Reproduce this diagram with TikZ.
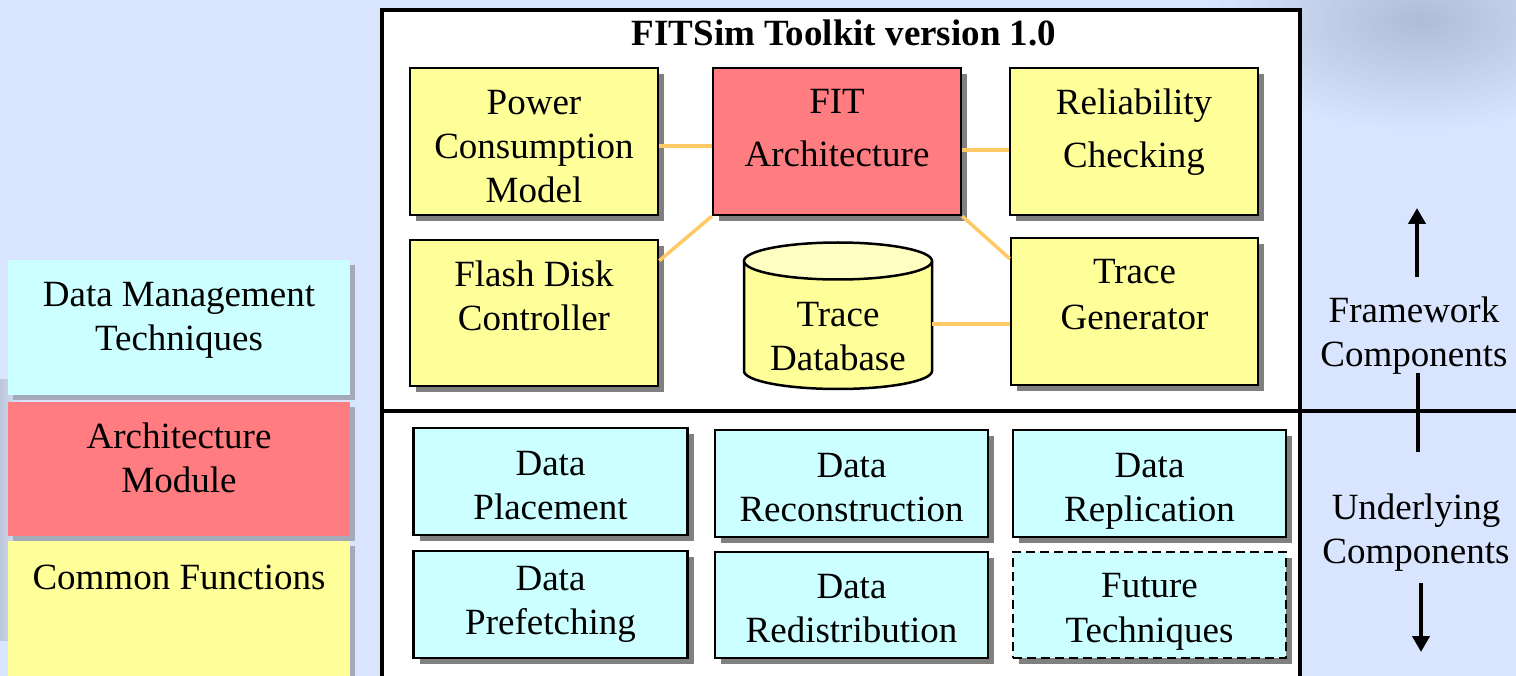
\documentclass[tikz,border=0pt]{standalone}
\usepackage{fontspec}
\setmainfont{Liberation Serif}
\usetikzlibrary{shadows,arrows.meta,calc}
\definecolor{bgblue}{HTML}{D9E5FE}
\definecolor{cyanf}{HTML}{CCFFFF}
\definecolor{redf}{HTML}{FF7C80}
\definecolor{yelf}{HTML}{FFFF99}
\definecolor{yeltop}{HTML}{FFFFC4}
\definecolor{orangel}{HTML}{FFC966}
\definecolor{shadowg}{HTML}{808080}
\definecolor{legshadow}{HTML}{A4AAB8}
\definecolor{smudge}{HTML}{A3AFCB}
\tikzset{
  txt/.style={font=\fontsize{37}{44}\selectfont, align=center, inner sep=0pt},
  boxbase/.style={draw=black, line width=2.5pt, inner sep=0pt,
    drop shadow={shadow xshift=6pt, shadow yshift=-6pt, fill=shadowg, opacity=1}},
  ybox/.style={boxbase, fill=yelf},
  rbox/.style={boxbase, fill=redf},
  cbox/.style={boxbase, fill=cyanf},
  legbox/.style={fill=#1, draw=none, inner sep=0pt,
    drop shadow={shadow xshift=5pt, shadow yshift=-5pt, fill=legshadow, opacity=1}},
  link/.style={draw=orangel, line width=3.5pt},
  thick line/.style={line width=4pt, draw=black},
  tarrow/.style={line width=4pt, -{Triangle[length=16pt, width=17pt]}},
}
\begin{document}
\begin{tikzpicture}[x=1pt, y=-1pt]
\useasboundingbox (0,0) rectangle (1516,676);
% background
\fill[bgblue] (0,0) rectangle (1516,676);
\shade[inner color=smudge, outer color=bgblue, opacity=0.75] (1420,20) ellipse [x radius=210, y radius=110];
\shade[left color=black!22!bgblue, right color=bgblue, opacity=0.6] (0,380) rectangle (22,640);

% legend
\node[legbox=cyanf, minimum width=342, minimum height=135] (lgc) at (179,327.5) {};
\node[txt] (lgct) at (179,320.5) {Data Management\\Techniques};
\node[legbox=redf, minimum width=342, minimum height=134] (lgr) at (179,468.5) {};
\node[txt] (lgrt) at (179,458) {Architecture\\Module};
\node[legbox=yelf, minimum width=342, minimum height=140] (lgy) at (179,611) {};
\node[txt] (lgyt) at (179,577) {Common Functions};

% main frame
\fill[white] (382,10) rectangle (1300,690);
\draw[thick line] (382,690) -- (382,10) -- (1300,10) -- (1300,690);
\coordinate (hl) at (382,411);
\coordinate (hr) at (1516,411);
\draw[thick line] (hl) -- (hr);

\node[txt, font=\fontsize{37}{44}\selectfont\bfseries] (title) at (844,33) {FITSim Toolkit version 1.0};

% top boxes
\node[ybox, minimum width=248, minimum height=147] (pcm) at (534,141.5) {};
\node[txt] (pcmt) at (534,146.5) {Power\\Consumption\\Model};
\node[rbox, minimum width=248, minimum height=147] (fit) at (837,141.5) {};
\node[txt] (fitt) at (837,128.5) {FIT\\[9pt]Architecture};
\node[ybox, minimum width=248, minimum height=147] (rel) at (1134,141.5) {};
\node[txt] (relt) at (1134,132) {Reliability\\[9pt]Checking};
\node[ybox, minimum width=248, minimum height=146] (fdc) at (534,313) {};
\node[txt] (fdct) at (534,296) {Flash Disk\\Controller};
\node[ybox, minimum width=247, minimum height=147] (tg) at (1134.5,311.5) {};
\node[txt] (tgt) at (1134.5,295) {Trace\\[2pt]Generator};

% cylinder
\fill[yelf, draw=black, line width=2.5pt]
  (744,261) -- (744,371) .. controls (744,380.9) and (786.1,389) .. (838,389)
  .. controls (889.9,389) and (932,380.9) .. (932,371) -- (932,261);
\fill[yeltop, draw=black, line width=2.5pt] (838,261) ellipse [x radius=94, y radius=18.5];
\node[txt, minimum width=188, minimum height=148] (tdb) at (838,337) {Trace\\Database};

% connectors
\draw[link] (pcm.east |- 0,146) -- (fit.west |- 0,146);
\draw[link] (fit.east |- 0,150) -- (rel.west |- 0,150);
\draw[link] (fit.south west) -- ($(fdc.north east)+(0,22)$);
\draw[link] (fit.south east) -- ($(tg.north west)+(0,22)$);
\draw[link] (tdb.east |- 0,324) -- (tg.west |- 0,324);

% bottom boxes
\node[cbox, minimum width=274, minimum height=107] (dpl) at (550.5,481.5) {};
\node[txt] (dplt) at (550.5,485.5) {Data\\Placement};
\node[cbox, minimum width=273, minimum height=107] (drc) at (851.5,483.5) {};
\node[txt] (drct) at (851.5,487.5) {Data\\Reconstruction};
\node[cbox, minimum width=273, minimum height=107] (drp) at (1149.5,483.5) {};
\node[txt] (drpt) at (1149.5,491) {Data\\Replication};
\node[cbox, minimum width=274, minimum height=107] (dpf) at (550.5,604.5) {};
\node[txt] (dpft) at (550.5,604) {Data\\Prefetching};
\node[cbox, minimum width=273, minimum height=106] (drd) at (851.5,605) {};
\node[txt] (drdt) at (851.5,609) {Data\\Redistribution};
\node[cbox, dashed, dash pattern=on 9pt off 5pt, minimum width=273, minimum height=106] (fut) at (1149.5,605) {};
\node[txt] (futt) at (1149.5,611.5) {Future\\[1pt]Techniques};

% right labels
\node[txt] (fw) at (1414,336) {Framework\\Components};
\node[txt] (ul) at (1416,533) {Underlying\\Components};
\coordinate (au1) at (1417,277);
\coordinate (au2) at (1417,208);
\draw[tarrow] (au1) -- (au2);
\coordinate (m1) at (1418,373);
\coordinate (m2) at (1418,452);
\draw[line width=4pt] (m1) -- (m2);
\coordinate (ad1) at (1421,583);
\coordinate (ad2) at (1421,652);
\draw[tarrow] (ad1) -- (ad2);
\end{tikzpicture}
\end{document}
